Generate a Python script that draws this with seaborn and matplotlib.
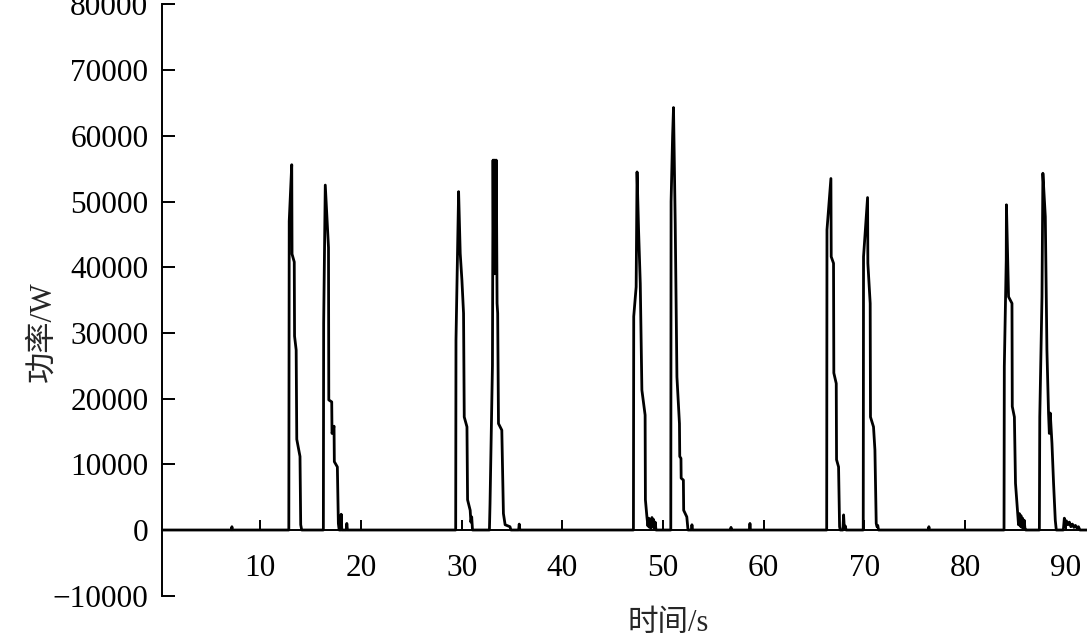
import numpy as np
import pandas as pd
import matplotlib
matplotlib.use("Agg")
import matplotlib.pyplot as plt
import seaborn as sns

# -----------------------
# data: power bursts (time in s, power in W)
# -----------------------
t_burst1 = [12.84, 12.88, 13.13, 13.16, 13.38, 13.41, 13.57, 13.63, 13.95, 14.02, 14.12]
p_burst1 = [0, 47000, 55600, 42000, 40800, 29500, 27400, 13800, 11200, 800, 0]

t_burst2 = [16.27, 16.30, 16.46, 16.78, 16.81, 17.10, 17.13, 17.33, 17.36, 17.66, 17.76,
            17.84, 17.99, 18.04, 18.10, 18.55, 18.60, 18.66]
p_burst2 = [0, 31500, 52500, 43000, 19800, 19500, 14700, 15800, 10400, 9600, 1000,
            0, 0, 2400, 0, 0, 1000, 0]

t_burst3 = [29.41, 29.44, 29.70, 29.86, 30.03, 30.19, 30.26, 30.53, 30.59, 30.85, 30.92, 31.00, 31.08]
p_burst3 = [0, 28900, 51500, 42100, 38000, 33000, 17200, 15700, 4600, 3000, 1200, 2000, 0]

t_burst4 = [32.76, 32.82, 33.06, 33.12, 33.17, 33.22, 33.27, 33.32, 33.38, 33.44, 33.52,
            33.58, 33.66, 33.99, 34.15, 34.32, 34.80, 34.90, 35.66, 35.72, 35.78]
p_burst4 = [0, 4000, 25000, 56300, 41000, 56300, 39000, 56300, 40000, 56300, 34500,
            33000, 16200, 15200, 2500, 800, 500, 0, 0, 900, 0]

t_burst5 = [47.06, 47.09, 47.33, 47.42, 47.57, 47.74, 47.90, 48.22, 48.25, 48.40, 48.50,
            48.58, 48.66, 48.74, 48.82, 48.90, 48.98, 49.06, 49.14, 49.22, 49.30]
p_burst5 = [0, 32500, 37000, 54500, 45700, 37500, 21300, 17500, 4600, 2000, 600,
            1800, 400, 1500, 300, 1900, 500, 1600, 200, 1200, 0]

t_burst6 = [50.77, 50.80, 50.95, 51.04, 51.21, 51.38, 51.63, 51.66, 51.78, 51.80, 52.02,
            52.05, 52.36, 52.48, 52.82, 52.87, 52.93]
p_burst6 = [0, 50000, 60000, 64300, 46700, 23300, 16200, 11200, 10900, 7900, 7600,
            3000, 2000, 0, 0, 800, 0]

t_burst7 = [66.25, 66.28, 66.67, 66.70, 66.93, 66.96, 67.20, 67.23, 67.43, 67.53, 67.60,
            67.86, 67.93, 68.00, 68.10, 68.18]
p_burst7 = [0, 45700, 53500, 41600, 40600, 23900, 22300, 10700, 9600, 500, 0,
            0, 2300, 300, 600, 0]

t_burst8 = [69.88, 69.91, 70.31, 70.34, 70.57, 70.60, 70.90, 71.04, 71.17, 71.25, 71.32, 71.40]
p_burst8 = [0, 41600, 50600, 40600, 34500, 17200, 15700, 12200, 1000, 500, 700, 0]

t_burst9 = [83.86, 83.89, 84.08, 84.10, 84.31, 84.65, 84.68, 84.89, 85.00, 85.20, 85.30,
            85.38, 85.46, 85.54, 85.62, 85.70, 85.78, 85.86, 85.94, 86.02]
p_burst9 = [0, 24900, 41100, 49500, 35500, 34500, 18800, 17200, 7100, 3000, 800,
            2500, 600, 2200, 400, 1800, 300, 1500, 200, 0]

t_burst10 = [87.37, 87.41, 87.63, 87.72, 87.96, 88.12, 88.28, 88.36, 88.45, 88.62, 88.78,
             88.95, 89.05, 89.75, 89.85, 89.95, 90.05, 90.20, 90.35, 90.50, 90.65,
             90.80, 90.95, 91.10, 91.25, 91.40]
p_burst10 = [0, 17200, 35500, 54300, 47700, 27400, 17800, 14700, 17800, 13200, 7100,
             1500, 0, 0, 1800, 600, 1400, 800, 1200, 500, 900,
             400, 700, 300, 500, 0]

# small isolated blips on the baseline
spike_t = [7.19, 56.75, 58.63, 76.40]
spike_p = [500, 400, 1000, 500]

x_ticks = [10, 20, 30, 40, 50, 60, 70, 80, 90]
y_ticks = [-10000, 0, 10000, 20000, 30000, 40000, 50000, 60000, 70000, 80000]


def build_series():
    ts, ps = [0.2], [0]
    for st, sp in zip(spike_t, spike_p):
        ts += [st - 0.05, st, st + 0.05]
        ps += [0, sp, 0]
    bursts = [
        (t_burst1, p_burst1), (t_burst2, p_burst2), (t_burst3, p_burst3),
        (t_burst4, p_burst4), (t_burst5, p_burst5), (t_burst6, p_burst6),
        (t_burst7, p_burst7), (t_burst8, p_burst8), (t_burst9, p_burst9),
        (t_burst10, p_burst10),
    ]
    for bt, bp in bursts:
        ts += list(bt)
        ps += list(bp)
    ts.append(92.1)
    ps.append(0)
    df = pd.DataFrame({"t": ts, "p": ps}).sort_values("t", kind="stable")
    return df.reset_index(drop=True)


sns.set_style("ticks")
plt.rcParams["font.family"] = ["Liberation Serif", "Noto Sans CJK SC"]
plt.rcParams["axes.unicode_minus"] = True

df = build_series()

fig = plt.figure(figsize=(10.87, 6.4), dpi=100)
ax = fig.add_axes([0.1486, 0.0692, 0.8514, 0.9239])

sns.lineplot(data=df, x="t", y="p", sort=False, estimator=None,
             color="black", linewidth=2.0, ax=ax)

ax.set_xlim(0.2, 92.1)
ax.set_ylim(-10000, 80000)
ax.set_xticks(x_ticks)
ax.set_yticks(y_ticks)

for side in ["top", "right"]:
    ax.spines[side].set_visible(False)
ax.spines["bottom"].set_position(("data", 0))
for side in ["left", "bottom"]:
    ax.spines[side].set_linewidth(1.4)
    ax.spines[side].set_color("black")

ax.tick_params(axis="x", direction="in", length=7.2, width=1.4, pad=17,
               labelsize=22.5, colors="black")
ax.tick_params(axis="y", direction="in", length=9.4, width=1.4, pad=9.5,
               labelsize=22.5, colors="black")

ax.set_xlabel("时间/s", fontsize=22)
ax.set_ylabel("功率/W", fontsize=22.5)
ax.xaxis.set_label_coords(0.547, -0.022)
ax.yaxis.set_label_coords(-0.112, 0.446)

fig.savefig("out.png", dpi=100)
plt.close(fig)
